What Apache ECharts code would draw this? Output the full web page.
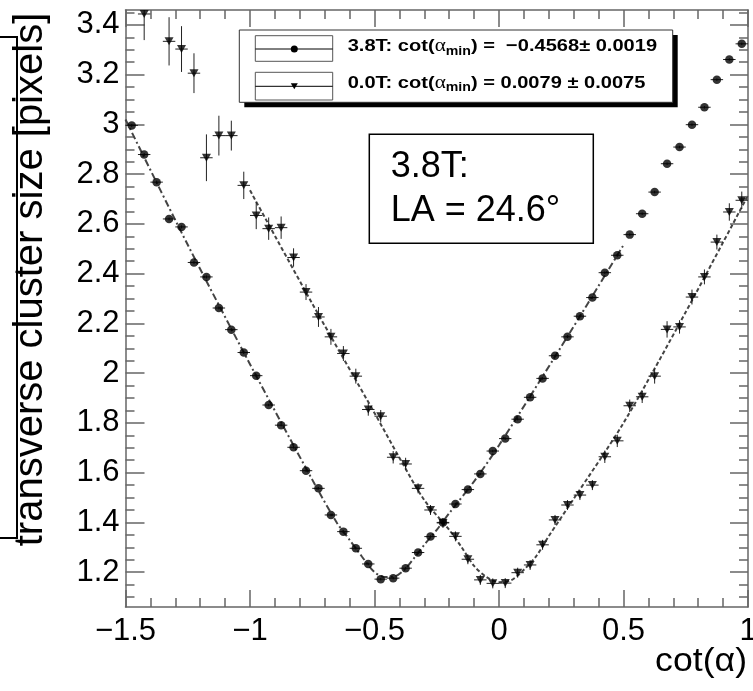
<!DOCTYPE html>
<html><head><meta charset="utf-8">
<script src="https://cdn.jsdelivr.net/npm/echarts@6/dist/echarts.min.js"></script>
<style>html,body{margin:0;padding:0;background:#fff;} #c{width:753px;height:691px;}</style>
</head><body><div id="c"></div>
<script>
// ---- data ----
const yMajorTicks = [1.2, 1.4, 1.6, 1.8, 2, 2.2, 2.4, 2.6, 2.8, 3, 3.2, 3.4];
const yMinorTicks = [1.1, 1.15, 1.2, 1.25, 1.3, 1.35, 1.4, 1.45, 1.5, 1.55, 1.6, 1.65, 1.7, 1.75, 1.8, 1.85, 1.9, 1.95,
  2, 2.05, 2.1, 2.15, 2.2, 2.25, 2.3, 2.35, 2.4, 2.45, 2.5, 2.55, 2.6, 2.65, 2.7, 2.75, 2.8, 2.85, 2.9, 2.95,
  3, 3.05, 3.1, 3.15, 3.2, 3.25, 3.3, 3.35, 3.4, 3.45];

const binHalfWidth = 0.025;

// 3.8T (circles)
const x38 = [-1.475, -1.425, -1.375, -1.325, -1.275, -1.225, -1.175, -1.125, -1.075, -1.025,
  -0.975, -0.925, -0.875, -0.825, -0.775, -0.725, -0.675, -0.625, -0.575, -0.525,
  -0.475, -0.425, -0.375, -0.325, -0.275, -0.225, -0.175, -0.125, -0.075, -0.025,
  0.025, 0.075, 0.125, 0.175, 0.225, 0.275, 0.325, 0.375, 0.425, 0.475,
  0.525, 0.575, 0.625, 0.675, 0.725, 0.775, 0.825, 0.875, 0.925, 0.975];
const y38 = [2.996, 2.879, 2.768, 2.620, 2.588, 2.445, 2.387, 2.262, 2.175, 2.083,
  1.990, 1.872, 1.791, 1.702, 1.608, 1.537, 1.430, 1.363, 1.296, 1.233,
  1.172, 1.176, 1.216, 1.279, 1.343, 1.400, 1.474, 1.532, 1.595, 1.687,
  1.737, 1.815, 1.903, 1.979, 2.070, 2.146, 2.229, 2.304, 2.404, 2.474,
  2.557, 2.641, 2.728, 2.842, 2.909, 2.999, 3.069, 3.180, 3.261, 3.324];
const e38 = [0.006, 0.006, 0.006, 0.006, 0.006, 0.006, 0.006, 0.006, 0.006, 0.006,
  0.005, 0.005, 0.005, 0.005, 0.005, 0.005, 0.005, 0.005, 0.005, 0.005,
  0.005, 0.005, 0.005, 0.005, 0.005, 0.005, 0.005, 0.005, 0.005, 0.005,
  0.005, 0.005, 0.005, 0.005, 0.005, 0.005, 0.005, 0.005, 0.005, 0.005,
  0.005, 0.005, 0.005, 0.005, 0.005, 0.005, 0.005, 0.005, 0.005, 0.005];

// 0.0T (inverted triangles)
const x00 = [-1.425, -1.325, -1.275, -1.225, -1.175, -1.125, -1.075, -1.025,
  -0.975, -0.925, -0.875, -0.825, -0.775, -0.725, -0.675, -0.625, -0.575, -0.525,
  -0.475, -0.425, -0.375, -0.325, -0.275, -0.225, -0.175, -0.125, -0.075, -0.025,
  0.025, 0.075, 0.125, 0.175, 0.225, 0.275, 0.325, 0.375, 0.425, 0.475,
  0.525, 0.575, 0.625, 0.675, 0.725, 0.775, 0.825, 0.875, 0.925, 0.975];
const y00 = [3.444, 3.334, 3.303, 3.206, 2.866, 2.955, 2.955, 2.755,
  2.634, 2.581, 2.585, 2.465, 2.326, 2.226, 2.146, 2.079, 1.988, 1.854,
  1.827, 1.662, 1.635, 1.537, 1.450, 1.398, 1.344, 1.252, 1.169, 1.155,
  1.156, 1.198, 1.229, 1.310, 1.410, 1.470, 1.510, 1.550, 1.664, 1.728,
  1.869, 1.905, 1.988, 2.176, 2.186, 2.306, 2.387, 2.527, 2.648, 2.695];
const e00 = [0.105, 0.097, 0.092, 0.080, 0.094, 0.080, 0.060, 0.055,
  0.055, 0.045, 0.045, 0.037, 0.032, 0.040, 0.032, 0.030, 0.030, 0.025,
  0.025, 0.025, 0.025, 0.020, 0.020, 0.020, 0.020, 0.020, 0.020, 0.020,
  0.020, 0.020, 0.020, 0.020, 0.020, 0.020, 0.020, 0.020, 0.025, 0.025,
  0.025, 0.025, 0.030, 0.033, 0.027, 0.030, 0.030, 0.030, 0.035, 0.035];

// fitted curves, points
const fit38x = [-1.5, -1.25, -1.0, -0.75, -0.65, -0.6, -0.55, -0.5, -0.46, -0.42, -0.38, -0.34, -0.3, -0.25, -0.2, -0.1, 0, 0.25, 0.5];
const fit38y = [3.02, 2.516, 2.036, 1.572, 1.397, 1.33, 1.262, 1.2, 1.181, 1.183, 1.21, 1.258, 1.31, 1.37, 1.437, 1.565, 1.71, 2.107, 2.515];
const fit00x = [-1.0, -0.75, -0.5, -0.4, -0.3, -0.2, -0.15, -0.1, -0.05, 0.0, 0.05, 0.1, 0.15, 0.2, 0.3, 0.5, 0.75, 1.0];
const fit00y = [2.735, 2.28, 1.84, 1.66, 1.49, 1.37, 1.30, 1.225, 1.18, 1.16, 1.168, 1.21, 1.265, 1.345, 1.495, 1.80, 2.246, 2.715];

// ---- chart ----
const FONT = '"Liberation Sans", Arial, Helvetica, sans-serif';
const axisLineStyle = {color: '#666', width: 1.5};
const minusFmt = v => (v < 0 ? '\u2212' + String(-v) : String(v));

function errItem(params, api) {
  const x = api.value(0), y = api.value(1), ey = api.value(2), ex = api.value(3);
  const l = api.coord([x - ex, y]), r = api.coord([x + ex, y]);
  const t = api.coord([x, y + ey]), b = api.coord([x, y - ey]);
  const st = {stroke: '#222', lineWidth: 1};
  return {type: 'group', children: [
    {type: 'line', shape: {x1: l[0], y1: l[1], x2: r[0], y2: r[1]}, style: st},
    {type: 'line', shape: {x1: t[0], y1: t[1], x2: b[0], y2: b[1]}, style: st}
  ]};
}

function xAxisCfg(pos, showLabel) {
  return {
    type: 'value', min: -1.5, max: 1, interval: 0.5, position: pos,
    axisLine: {show: true, onZero: false, lineStyle: axisLineStyle},
    axisTick: {show: true, inside: true, length: 17, lineStyle: axisLineStyle},
    minorTick: {show: true, splitNumber: 5, length: 9, lineStyle: axisLineStyle},
    splitLine: {show: false}, minorSplitLine: {show: false},
    axisLabel: {show: showLabel, margin: 9, fontSize: 31, color: '#000', fontFamily: FONT,
      formatter: minusFmt, showMinLabel: true, showMaxLabel: true, hideOverlap: false}
  };
}
function yAxisCfg(pos, major, showLabel, showLine) {
  return {
    type: 'value', min: 1.06, max: 3.46, position: pos,
    axisLine: {show: showLine, onZero: false, lineStyle: axisLineStyle},
    axisTick: {show: true, inside: true, length: major ? (pos === 'left' ? 19 : 18) : 9,
      customValues: major ? yMajorTicks : yMinorTicks, lineStyle: axisLineStyle},
    splitLine: {show: false},
    axisLabel: {show: showLabel, customValues: yMajorTicks, margin: 6, fontSize: 31, color: '#000',
      fontFamily: FONT, padding: [8, 0, 0, 0], formatter: v => String(+(+v).toFixed(2))}
  };
}

const chart = echarts.init(document.getElementById('c'), null, {renderer: 'canvas'});
chart.setOption({
  animation: false,
  backgroundColor: '#fff',
  grid: {left: 125.5, top: 10, width: 622.5, height: 597, containLabel: false, outerBoundsMode: 'none'},
  xAxis: [xAxisCfg('bottom', true), xAxisCfg('top', false)],
  yAxis: [yAxisCfg('left', true, true, true), yAxisCfg('left', false, false, false),
          yAxisCfg('right', true, false, true), yAxisCfg('right', false, false, false)],
  series: [
    {type: 'line', name: 'fit38', data: fit38x.map((x, i) => [x, fit38y[i]]), smooth: 0.3,
      showSymbol: false, symbol: 'none', z: 2,
      lineStyle: {color: '#444', width: 2, type: [7, 3, 2, 3]}},
    {type: 'line', name: 'fit00', data: fit00x.map((x, i) => [x, fit00y[i]]), smooth: 0.3,
      showSymbol: false, symbol: 'none', z: 2,
      lineStyle: {color: '#444', width: 2, type: [4, 2.5]}},
    {type: 'custom', name: 'err38', renderItem: errItem, clip: true, z: 3,
      encode: {x: 0, y: 1},
      data: x38.map((x, i) => [x, y38[i], e38[i], binHalfWidth])},
    {type: 'custom', name: 'err00', renderItem: errItem, clip: true, z: 3,
      encode: {x: 0, y: 1},
      data: x00.map((x, i) => [x, y00[i], e00[i], binHalfWidth])},
    {type: 'scatter', name: '3.8T', data: x38.map((x, i) => [x, y38[i]]), symbol: 'circle',
      symbolSize: 8.5, itemStyle: {color: '#000'}, z: 4},
    {type: 'scatter', name: '0.0T', data: x00.map((x, i) => [x, y00[i]]), symbol: 'triangle',
      symbolRotate: 180, symbolSize: [9, 8], itemStyle: {color: '#000'}, z: 4}
  ],
  graphic: [
    // left frame fragment
    {type: 'polyline', z: 102, shape: {points: [[0, 37], [17, 37], [17, 538], [0, 538]]},
      style: {stroke: '#000', lineWidth: 2, fill: null}},
    // y title
    {type: 'text', z: 101, x: 31, y: 279.5, rotation: Math.PI / 2,
      style: {text: 'transverse cluster size [pixels]', font: '40px ' + FONT, fill: '#000',
        align: 'center', verticalAlign: 'middle', textAlign: 'center', textVerticalAlign: 'middle'}},
    // x title
    {type: 'text', z: 100, x: 747, y: 662, scaleX: 1.08,
      style: {text: 'cot(α)', font: '33px ' + FONT, fill: '#000',
        align: 'right', verticalAlign: 'middle', textAlign: 'right', textVerticalAlign: 'middle'}},
    // legend shadow & frame
    {type: 'rect', z: 100, shape: {x: 244.3, y: 35, width: 433.4, height: 72.3}, style: {fill: '#000'}},
    {type: 'rect', z: 101, shape: {x: 239.3, y: 30, width: 433.4, height: 72.3},
      style: {fill: '#fff', stroke: '#333', lineWidth: 1}},
    {type: 'rect', z: 102, shape: {x: 255.3, y: 35.7, width: 77.4, height: 25.6},
      style: {fill: null, stroke: '#555', lineWidth: 1}},
    {type: 'line', z: 102, shape: {x1: 255.3, y1: 49, x2: 332.7, y2: 49}, style: {stroke: '#000', lineWidth: 1}},
    {type: 'circle', z: 103, shape: {cx: 294.3, cy: 49, r: 3.5}, style: {fill: '#000'}},
    {type: 'rect', z: 102, shape: {x: 255.3, y: 72.3, width: 77.4, height: 27.7},
      style: {fill: null, stroke: '#555', lineWidth: 1}},
    {type: 'line', z: 102, shape: {x1: 255.3, y1: 86.3, x2: 332.7, y2: 86.3}, style: {stroke: '#000', lineWidth: 1}},
    {type: 'polygon', z: 103, shape: {points: [[290.8, 83.3], [297.8, 83.3], [294.3, 89.3]]}, style: {fill: '#000'}},
    {type: 'text', z: 103, x: 347.7, y: 35.3, scaleX: 1.18,
      style: {text: '{b|3.8T: cot(}{g|α}{s|min}{b|) =  \u22120.4568± 0.0019}',
        align: 'left', verticalAlign: 'top', textAlign: 'left', textVerticalAlign: 'top',
        rich: {
          b: {fontSize: 17, fontWeight: 'bold', fontFamily: FONT, lineHeight: 22, verticalAlign: 'middle', fill: '#000'},
          g: {fontSize: 18, fontFamily: '"Liberation Serif", serif', lineHeight: 22, verticalAlign: 'middle', fill: '#000'},
          s: {fontSize: 12, fontWeight: 'bold', fontFamily: FONT, lineHeight: 9, verticalAlign: 'bottom', fill: '#000'}
        }}},
    {type: 'text', z: 103, x: 347.7, y: 72, scaleX: 1.18,
      style: {text: '{b|0.0T: cot(}{g|α}{s|min}{b|) = 0.0079 ± 0.0075}',
        align: 'left', verticalAlign: 'top', textAlign: 'left', textVerticalAlign: 'top',
        rich: {
          b: {fontSize: 17, fontWeight: 'bold', fontFamily: FONT, lineHeight: 22, verticalAlign: 'middle', fill: '#000'},
          g: {fontSize: 18, fontFamily: '"Liberation Serif", serif', lineHeight: 22, verticalAlign: 'middle', fill: '#000'},
          s: {fontSize: 12, fontWeight: 'bold', fontFamily: FONT, lineHeight: 9, verticalAlign: 'bottom', fill: '#000'}
        }}},
    // annotation box
    {type: 'rect', z: 100, shape: {x: 369.3, y: 134.3, width: 224, height: 109},
      style: {fill: '#fff', stroke: '#000', lineWidth: 1.5}},
    {type: 'text', z: 101, x: 390.7, y: 145.5,
      style: {text: '3.8T:\nLA = 24.6°', font: '36px ' + FONT, lineHeight: 44, fill: '#000',
        align: 'left', verticalAlign: 'top', textAlign: 'left', textVerticalAlign: 'top'}}
  ]
});
</script>
</body></html>
